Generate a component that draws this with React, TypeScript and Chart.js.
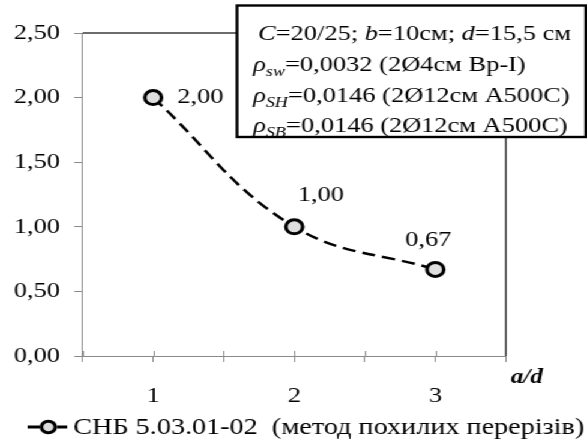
import React, { useEffect, useRef } from "react";
import { Chart, registerables } from "chart.js";

Chart.register(...registerables);

// a/d ratio (x) and computed value (y)
const AD_RATIO = [1, 2, 3];
const CAPACITY = [2.0, 1.0, 0.67];
const SERIES_NAME = "СНБ 5.03.01-02  (метод похилих перерізів)";
const X_TITLE = "a/d";

// Parameter box lines: [text, italic, subscript]
type Seg = [string, boolean?, boolean?];
const INFO_LINES: Seg[][] = [
  [["C", true], ["=20/25; "], ["b", true], ["=10см; "], ["d", true], ["=15,5 см"]],
  [["ρ", true], ["sw", true, true], ["=0,0032 (2Ø4см Вр-I)"]],
  [["ρ", true], ["SH", true, true], ["=0,0146 (2Ø12см А500С)"]],
  [["ρ", true], ["SB", true, true], ["=0,0146 (2Ø12см А500С)"]],
];

const W = 489; // drawing width; the canvas is stretched horizontally to 587px
const H = 441;
const SX = 587 / W;
const SERIF = '"Liberation Serif", "Times New Roman", serif';
const AXIS_GRAY = "#8a8a8a";

const fmt = (v: number) => v.toFixed(2).replace(".", ",");

// label offsets relative to each point (style)
const LABEL_OFFSETS = [
  { dx: 20, dy: 0, align: "left" as CanvasTextAlign },
  { dx: 22, dy: -32, align: "center" as CanvasTextAlign },
  { dx: -6, dy: -29, align: "center" as CanvasTextAlign },
];

function drawRich(ctx: CanvasRenderingContext2D, x: number, y: number, segs: Seg[]) {
  let cx = x;
  for (const [t, italic, sub] of segs) {
    const size = sub ? 15 : 22;
    ctx.font = `${italic ? "italic " : ""}${size}px ${SERIF}`;
    ctx.fillText(t, cx, sub ? y + 5 : y);
    cx += ctx.measureText(t).width;
  }
}

const decorPlugin = {
  id: "decor",
  beforeDatasetsDraw(chart: any) {
    const { ctx, chartArea } = chart;
    const xs = chart.scales.x;
    ctx.save();
    // upper half of the crossing x tick marks
    ctx.strokeStyle = AXIS_GRAY;
    ctx.lineWidth = 1;
    xs.ticks.forEach((t: any) => {
      const px = Math.round(xs.getPixelForValue(t.value)) + 0.5;
      ctx.beginPath();
      ctx.moveTo(px, chartArea.bottom - 5);
      ctx.lineTo(px, chartArea.bottom);
      ctx.stroke();
    });
    // dark top and right frame
    ctx.strokeStyle = "#3c3c3c";
    ctx.lineWidth = 1.4;
    ctx.beginPath();
    ctx.moveTo(chartArea.left, chartArea.top);
    ctx.lineTo(chartArea.right, chartArea.top);
    ctx.lineTo(chartArea.right, chartArea.bottom);
    ctx.stroke();
    ctx.restore();
  },
  afterDatasetsDraw(chart: any) {
    const { ctx } = chart;
    const meta = chart.getDatasetMeta(0);
    ctx.save();
    ctx.fillStyle = "#000";
    ctx.font = `22px ${SERIF}`;
    ctx.textBaseline = "middle";
    meta.data.forEach((pt: any, i: number) => {
      const o = LABEL_OFFSETS[i];
      ctx.textAlign = o.align;
      ctx.fillText(fmt(CAPACITY[i]), pt.x + o.dx, pt.y + o.dy);
    });
    ctx.restore();
  },
  afterDraw(chart: any) {
    const { ctx, chartArea } = chart;
    ctx.save();
    // axis title
    ctx.fillStyle = "#000";
    ctx.font = `italic bold 21px ${SERIF}`;
    ctx.textAlign = "left";
    ctx.textBaseline = "alphabetic";
    ctx.fillText(X_TITLE, chartArea.right + 4, 383);

    // parameter box
    const bx = 197.5, by = 5.5, bw = 290.5, bh = 131.5;
    ctx.fillStyle = "#fff";
    ctx.fillRect(bx, by, bw, bh);
    ctx.save();
    ctx.beginPath();
    ctx.rect(bx, by, bw, bh);
    ctx.clip();
    ctx.fillStyle = "#000";
    const baselines = [40, 71, 102, 132];
    INFO_LINES.forEach((segs, i) => drawRich(ctx, i === 0 ? 215 : 211, baselines[i], segs));
    ctx.restore();
    ctx.strokeStyle = "#000";
    ctx.lineWidth = 2.4;
    ctx.strokeRect(bx, by, bw, bh);

    // legend
    const ly = 427;
    ctx.strokeStyle = "#000";
    ctx.lineWidth = 3;
    ctx.beginPath();
    ctx.moveTo(23, ly);
    ctx.lineTo(33, ly);
    ctx.moveTo(47.5, ly);
    ctx.lineTo(56, ly);
    ctx.stroke();
    ctx.beginPath();
    ctx.arc(40.3, ly, 5.8, 0, Math.PI * 2);
    ctx.fillStyle = "#dcdcdc";
    ctx.fill();
    ctx.lineWidth = 3;
    ctx.stroke();
    ctx.fillStyle = "#000";
    ctx.font = `23.5px ${SERIF}`;
    ctx.fillText(SERIES_NAME, 61, 434);
    ctx.restore();
  },
};

export default function App() {
  const ref = useRef<HTMLCanvasElement | null>(null);

  useEffect(() => {
    if (!ref.current) return;
    const chart = new Chart(ref.current, {
      type: "line",
      data: {
        datasets: [
          {
            label: SERIES_NAME,
            data: AD_RATIO.map((x, i) => ({ x, y: CAPACITY[i] })),
            borderColor: "#000",
            borderWidth: 2.5,
            borderDash: [11, 6],
            tension: 0.4,
            fill: false,
            pointRadius: 7,
            pointBorderWidth: 3,
            pointBorderColor: "#000",
            pointBackgroundColor: "#dedede",
          },
        ],
      },
      options: {
        animation: false,
        responsive: false,
        devicePixelRatio: 1,
        layout: { padding: { top: 33, right: W - 421.4, left: 0, bottom: 0 } },
        plugins: { legend: { display: false }, tooltip: { enabled: false } },
        scales: {
          x: {
            type: "linear",
            min: 0.5,
            max: 3.5,
            afterFit: (s: any) => {
              s.height = H - 356;
            },
            ticks: {
              stepSize: 0.5,
              color: "#000",
              font: { family: SERIF, size: 22 },
              padding: 21,
              maxRotation: 0,
              autoSkip: false,
              callback: (v: any) => (Number.isInteger(Number(v)) ? String(v) : ""),
            },
            grid: { drawOnChartArea: false, tickLength: 6, color: AXIS_GRAY },
            border: { color: AXIS_GRAY, width: 1 },
          },
          y: {
            min: 0,
            max: 2.5,
            afterFit: (s: any) => {
              s.width = 68.9;
            },
            ticks: {
              stepSize: 0.5,
              color: "#000",
              font: { family: SERIF, size: 22 },
              padding: 12,
              callback: (v: any) => fmt(Number(v)),
            },
            grid: { drawOnChartArea: false, tickLength: 7, color: AXIS_GRAY },
            border: { color: AXIS_GRAY, width: 1 },
          },
        },
      },
      plugins: [decorPlugin],
    });
    return () => chart.destroy();
  }, []);

  return (
    <div
      style={{
        position: "absolute",
        left: 0,
        top: 0,
        width: W,
        height: H,
        transform: `scaleX(${SX})`,
        transformOrigin: "0 0",
        background: "#fff",
      }}
    >
      <canvas ref={ref} width={W} height={H} style={{ display: "block" }} />
    </div>
  );
}
